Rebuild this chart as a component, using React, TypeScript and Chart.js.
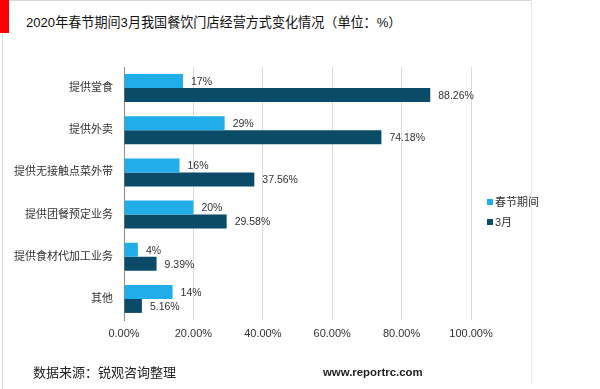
import React, { useEffect, useRef } from "react";
import { Chart, registerables } from "chart.js";

Chart.register(...registerables);

const categories = ["提供堂食", "提供外卖", "提供无接触点菜外带", "提供团餐预定业务", "提供食材代加工业务", "其他"];
const springFestival = [17, 29, 16, 20, 4, 14];
const march = [88.26, 74.18, 37.56, 29.58, 9.39, 5.16];
const seriesNames = ["春节期间", "3月"];
const xTicks = [0, 20, 40, 60, 80, 100];

const LIGHT = "#21ADEA";
const DARK = "#0C4B67";
const FONT = "'Liberation Sans', Arial, 'Noto Sans CJK SC', sans-serif";

const valueLabels = {
  id: "valueLabels",
  afterDatasetsDraw(chart: any) {
    const ctx = chart.ctx;
    ctx.save();
    ctx.font = `10.5px ${FONT}`;
    ctx.fillStyle = "#333333";
    ctx.textAlign = "left";
    ctx.textBaseline = "middle";
    chart.data.datasets.forEach((ds: any, di: number) => {
      const meta = chart.getDatasetMeta(di);
      meta.data.forEach((el: any, i: number) => {
        const v = ds.data[i];
        const txt = di === 0 ? `${v}%` : `${v.toFixed(2)}%`;
        ctx.fillText(txt, el.x + 8, el.y + 1);
      });
    });
    ctx.restore();
  },
};

export default function App() {
  const ref = useRef<HTMLCanvasElement>(null);

  useEffect(() => {
    if (!ref.current) return;
    const chart = new Chart(ref.current, {
      type: "bar",
      data: {
        labels: categories,
        datasets: [
          { label: seriesNames[0], data: springFestival, backgroundColor: LIGHT, categoryPercentage: 0.664, barPercentage: 1 },
          { label: seriesNames[1], data: march, backgroundColor: DARK, categoryPercentage: 0.664, barPercentage: 1 },
        ],
      },
      options: {
        indexAxis: "y",
        animation: false,
        responsive: false,
        maintainAspectRatio: false,
        layout: { padding: { top: 67, right: 129, bottom: 0, left: 0 } },
        plugins: {
          legend: { display: false },
          tooltip: { enabled: false },
          title: { display: false },
        },
        scales: {
          x: {
            min: 0,
            max: 100,
            afterBuildTicks: (scale: any) => {
              scale.ticks = xTicks.map((v) => ({ value: v }));
            },
            afterFit: (scale: any) => {
              scale.height = 69;
            },
            grid: { color: "#D9D9D9", drawTicks: false },
            border: { display: false },
            ticks: {
              padding: 7,
              color: "#333333",
              font: { size: 11, family: FONT },
              callback: (v: any) => `${Number(v).toFixed(2)}%`,
            },
          },
          y: {
            afterFit: (scale: any) => {
              scale.width = 124;
            },
            grid: { display: false, drawTicks: false },
            border: { display: true, color: "#8C8C8C", width: 1 },
            ticks: {
              padding: 11,
              color: "#333333",
              font: { size: 11, family: FONT },
            },
          },
        },
      },
      plugins: [valueLabels],
    });
    return () => chart.destroy();
  }, []);

  const abs = (s: React.CSSProperties): React.CSSProperties => ({ position: "absolute", ...s });

  return (
    <div style={{ position: "absolute", left: 0, top: 0, width: 600, height: 389, background: "#fff", overflow: "hidden", fontFamily: FONT }}>
      <div style={abs({ left: 0, top: 0, width: 9, height: 33, background: "#FF0000" })} />
      <div style={abs({ left: 9, top: 0, width: 522, height: 1, background: "#D6D6D6" })} />
      <div style={abs({ left: 2, top: 33, width: 1, height: 356, background: "#D6D6D6" })} />
      <div style={abs({ left: 531, top: 0, width: 1, height: 384, background: "#EBEBEB" })} />
      <div style={abs({ left: 26, top: 14, fontSize: 13.1, lineHeight: "18px", color: "#111", whiteSpace: "nowrap", fontFamily: "'Liberation Sans', 'Noto Sans CJK SC', sans-serif" })}>
        2020年春节期间3月我国餐饮门店经营方式变化情况（单位：%）
      </div>
      <canvas ref={ref} width={600} height={389} style={abs({ left: 0, top: 0, width: 600, height: 389 })} />
      <div style={abs({ left: 487, top: 196, fontSize: 11, lineHeight: "12px", color: "#333" })}>
        <div style={{ display: "flex", alignItems: "center", height: 12, marginBottom: 8 }}>
          <span style={{ width: 6, height: 6, background: LIGHT, marginRight: 2 }} />
          <span>{seriesNames[0]}</span>
        </div>
        <div style={{ display: "flex", alignItems: "center", height: 12 }}>
          <span style={{ width: 6, height: 6, background: DARK, marginRight: 2 }} />
          <span>{seriesNames[1]}</span>
        </div>
      </div>
      <div style={abs({ left: 33, top: 364, fontSize: 13, lineHeight: "18px", color: "#222", whiteSpace: "nowrap" })}>
        数据来源：锐观咨询整理
      </div>
      <div style={abs({ left: 323, top: 364, fontSize: 11.4, fontWeight: "bold", lineHeight: "16px", color: "#222", whiteSpace: "nowrap", fontFamily: "'Liberation Sans', Arial, sans-serif" })}>
        www.reportrc.com
      </div>
    </div>
  );
}
